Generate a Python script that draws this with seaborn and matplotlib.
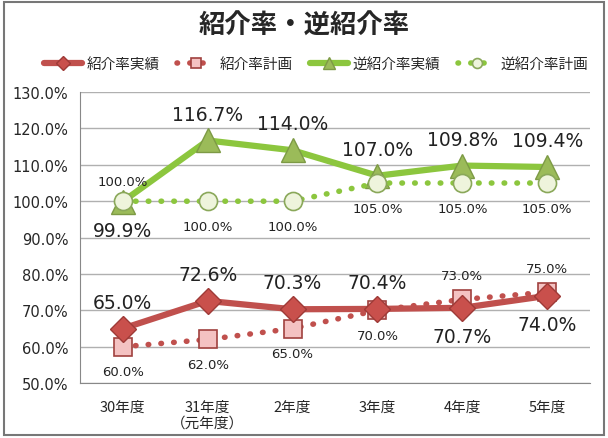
import matplotlib
matplotlib.use('Agg')
import matplotlib.pyplot as plt
import seaborn as sns
import pandas as pd
import numpy as np
from matplotlib.patches import Rectangle

# データ
years = ['30年度', '31年度\n（元年度）', '2年度', '3年度', '4年度', '5年度']
intro_actual = [65.0, 72.6, 70.3, 70.4, 70.7, 74.0]
intro_plan = [60.0, 62.0, 65.0, 70.0, 73.0, 75.0]
rev_actual = [99.9, 116.7, 114.0, 107.0, 109.8, 109.4]
rev_plan = [100.0, 100.0, 100.0, 105.0, 105.0, 105.0]

# ラベル位置 (1=上, -1=下)
intro_actual_pos = [1, 1, 1, 1, -1, -1]
intro_plan_pos = [-1, -1, -1, -1, 1, 1]
rev_actual_pos = [-1, 1, 1, 1, 1, 1]
rev_plan_pos = [1, -1, -1, -1, -1, -1]

sns.set_style('white')
plt.rcParams['font.family'] = ['Noto Sans CJK JP', 'DejaVu Sans']

fig = plt.figure(figsize=(6.08, 4.39), dpi=100)
ax = fig.add_axes([0.132, 0.125, 0.838, 0.663])

x = np.arange(len(years))
df = pd.DataFrame({'x': x, 'ia': intro_actual, 'ip': intro_plan,
                   'ra': rev_actual, 'rp': rev_plan})

red = '#C0504D'
green = '#8CC63E'

sns.lineplot(data=df, x='x', y='ip', ax=ax, color=red, linewidth=4,
             linestyle=(0, (0.1, 2.2)), dash_capstyle='round',
             marker='s', markersize=13, markerfacecolor='#F4C2C2',
             markeredgecolor='#A0413E', markeredgewidth=1.2, zorder=3,
             label='紹介率計画')
sns.lineplot(data=df, x='x', y='ia', ax=ax, color=red, linewidth=4.5,
             marker='D', markersize=13, markerfacecolor='#C9504C',
             markeredgecolor='#9E3A37', markeredgewidth=1, zorder=4,
             label='紹介率実績')
sns.lineplot(data=df, x='x', y='rp', ax=ax, color=green, linewidth=4,
             linestyle=(0, (0.1, 2.2)), dash_capstyle='round',
             marker='o', markersize=13, markerfacecolor='#EEF4DC',
             markeredgecolor='#8AA85A', markeredgewidth=1.2, zorder=3,
             label='逆紹介率計画')
sns.lineplot(data=df, x='x', y='ra', ax=ax, color=green, linewidth=4.5,
             marker='^', markersize=17, markerfacecolor='#9BBB59',
             markeredgecolor='#7D9A45', markeredgewidth=1, zorder=2,
             label='逆紹介率実績')

def put_labels(vals, pos, size, off_up, off_dn):
    for i, (v, p) in enumerate(zip(vals, pos)):
        dy = off_up if p > 0 else -off_dn
        ax.annotate(f'{v:.1f}%', (i, v), xytext=(0, dy), textcoords='offset points',
                    ha='center', va='center', fontsize=size, color='#222222',
                    family=['DejaVu Sans'])

put_labels(intro_actual, intro_actual_pos, 13.5, 19, 21)
put_labels(rev_actual, rev_actual_pos, 13.5, 19, 21)
put_labels(intro_plan, intro_plan_pos, 9.5, 17, 18)
put_labels(rev_plan, rev_plan_pos, 9.5, 14, 18)

ax.set_xlim(-0.5, 5.5)
ax.set_ylim(50, 130)
ax.set_yticks(np.arange(50, 131, 10))
ax.set_yticklabels([f'{v:.1f}%' for v in np.arange(50, 131, 10)],
                   fontsize=10.5, family=['DejaVu Sans'])
ax.set_xticks(x)
ax.set_xticklabels(years, fontsize=10.5)
ax.set_xticks(np.arange(-0.5, 6, 1), minor=True)
ax.tick_params(axis='x', which='major', length=0, pad=12)
ax.tick_params(axis='x', which='minor', length=5, color='#888888', direction='out')
ax.tick_params(axis='y', length=5, color='#888888', direction='out')
ax.yaxis.grid(True, color='#B0B0B0', linewidth=1)
ax.set_axisbelow(True)
ax.set_xlabel('')
ax.set_ylabel('')
for s in ['top', 'right']:
    ax.spines[s].set_visible(False)
for s in ['left', 'bottom']:
    ax.spines[s].set_color('#888888')

handles, labels = ax.get_legend_handles_labels()
order = [labels.index(n) for n in ['紹介率実績', '紹介率計画', '逆紹介率実績', '逆紹介率計画']]
ax.legend([handles[i] for i in order], [labels[i] for i in order],
          loc='center', bbox_to_anchor=(0.52, 0.852), bbox_transform=fig.transFigure,
          ncol=4, frameon=False, fontsize=10.5, handlelength=2.6, columnspacing=1.2,
          handletextpad=0.3, markerscale=0.55)

fig.text(0.5, 0.94, '紹介率・逆紹介率', ha='center', va='center',
         fontsize=19, fontweight='bold')

fig.patches.append(Rectangle((0.006, 0.006), 0.988, 0.988, transform=fig.transFigure,
                             fill=False, edgecolor='#777777', linewidth=1.5))

fig.savefig('out.png', dpi=100, facecolor='white')
